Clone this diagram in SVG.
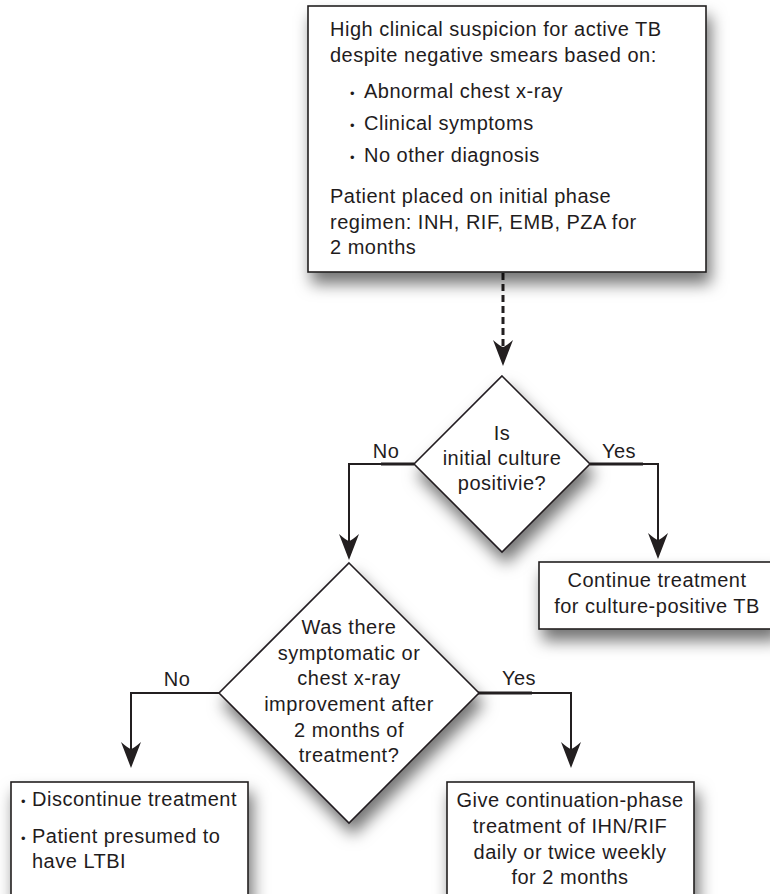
<svg xmlns="http://www.w3.org/2000/svg" width="770" height="894" viewBox="0 0 770 894">
<style>
  text { font-family: "Liberation Sans", Arial, Helvetica, sans-serif; font-size: 20px; fill: #1f1c1d; letter-spacing: 0.5px; }
  .c { text-anchor: middle; }
  .b { font-size: 13px; }
  .shape { fill: #ffffff; stroke: #231f20; stroke-width: 1.6; }
  .ln { fill: none; stroke: #231f20; stroke-width: 2; }
  .thick { fill: none; stroke: #231f20; stroke-width: 3.2; }
  .dash { fill: none; stroke: #231f20; stroke-width: 3; stroke-dasharray: 7 4; }
  .head { fill: #231f20; stroke: none; }
</style>
<defs>
  <filter id="sh" x="-20%" y="-20%" width="150%" height="170%">
    <feDropShadow dx="4" dy="11" stdDeviation="8" flood-color="#000" flood-opacity="0.55"/>
  </filter>
</defs>
<rect width="770" height="894" fill="#ffffff"/>

<g id="connectors">
  <path class="dash" d="M503,273 V346"/>
  <path class="head" d="M503,366 L493,340 Q501,347 503,347 Q505,347 513,340 Z"/>

  <path class="ln" d="M414,464 H349 V542"/>
  <path class="thick" d="M381,464 H414"/>
  <path class="head" d="M349,560 L339,534 Q347,541 349,541 Q351,541 359,534 Z"/>

  <path class="ln" d="M590,464 H658 V540"/>
  <path class="thick" d="M590,464 H643"/>
  <path class="head" d="M658,559 L648,533 Q656,540 658,540 Q660,540 668,533 Z"/>

  <path class="ln" d="M219,693 H131 V750"/>
  <path class="head" d="M131,768 L121,742 Q129,749 131,749 Q133,749 141,742 Z"/>

  <path class="ln" d="M478,693 H571 V750"/>
  <path class="thick" d="M478,693 H532"/>
  <path class="head" d="M571,768 L561,742 Q569,749 571,749 Q573,749 581,742 Z"/>

  <text class="c" x="386" y="458">No</text>
  <text class="c" x="619" y="458">Yes</text>
  <text class="c" x="177" y="686">No</text>
  <text class="c" x="519" y="685">Yes</text>
</g>

<g id="start">
  <rect class="shape" filter="url(#sh)" x="308" y="6" width="398" height="266"/>
  <text x="330" y="36">High clinical suspicion for active TB</text>
  <text x="330" y="61.5">despite negative smears based on:</text>
  <text x="350" y="98"><tspan class="b">•</tspan><tspan x="364">Abnormal chest x-ray</tspan></text>
  <text x="350" y="129.5"><tspan class="b">•</tspan><tspan x="364">Clinical symptoms</tspan></text>
  <text x="350" y="161.5"><tspan class="b">•</tspan><tspan x="364">No other diagnosis</tspan></text>
  <text x="330" y="203">Patient placed on initial phase</text>
  <text x="330" y="228.5">regimen: INH, RIF, EMB, PZA for</text>
  <text x="330" y="254">2 months</text>
</g>

<g id="decision1">
  <polygon class="shape" filter="url(#sh)" points="502,376 590,464 502,552 414,464"/>
  <text class="c" x="502" y="440">Is</text>
  <text class="c" x="502" y="465">initial culture</text>
  <text class="c" x="502" y="490">positivie?</text>
</g>

<g id="continue">
  <rect class="shape" filter="url(#sh)" x="539" y="562" width="236" height="67"/>
  <text class="c" x="657" y="587">Continue treatment</text>
  <text class="c" x="657" y="613">for culture-positive TB</text>
</g>

<g id="decision2">
  <polygon class="shape" filter="url(#sh)" points="349,563 479,693 349,823 219,693"/>
  <text class="c" x="349" y="634">Was there</text>
  <text class="c" x="349" y="659.5">symptomatic or</text>
  <text class="c" x="349" y="685">chest x-ray</text>
  <text class="c" x="349" y="710.5">improvement after</text>
  <text class="c" x="349" y="736.5">2 months of</text>
  <text class="c" x="349" y="761.5">treatment?</text>
</g>

<g id="discontinue">
  <rect class="shape" filter="url(#sh)" x="11" y="782" width="237" height="130"/>
  <text x="21" y="806"><tspan class="b">•</tspan><tspan x="32">Discontinue treatment</tspan></text>
  <text x="21" y="843"><tspan class="b">•</tspan><tspan x="32">Patient presumed to</tspan></text>
  <text x="32" y="868">have LTBI</text>
</g>

<g id="continuation">
  <rect class="shape" filter="url(#sh)" x="447" y="782" width="247" height="130"/>
  <text class="c" x="570" y="807">Give continuation-phase</text>
  <text class="c" x="570" y="833">treatment of IHN/RIF</text>
  <text class="c" x="570" y="858.5">daily or twice weekly</text>
  <text class="c" x="570" y="884">for 2 months</text>
</g>
</svg>
